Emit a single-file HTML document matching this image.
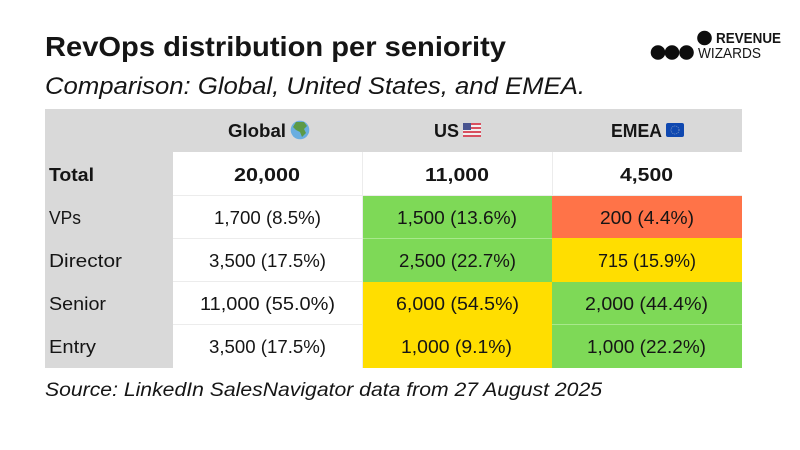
<!DOCTYPE html>
<html lang="en">
<head>
<meta charset="utf-8">
<title>RevOps distribution per seniority</title>
<style>
html,body{margin:0;padding:0;width:800px;height:450px;overflow:hidden;background:#fff}
svg{display:block}
text{font-family:"Liberation Sans",sans-serif;fill:#151515}
.cell{font-size:18px}
.bold{font-weight:700}
</style>
</head>
<body>
<svg width="800" height="450" viewBox="0 0 800 450" xmlns="http://www.w3.org/2000/svg">
<rect width="800" height="450" fill="#fff"/>

<text x="45" y="56" font-size="28" font-weight="700" fill="#0d0d0d" textLength="461" lengthAdjust="spacingAndGlyphs">RevOps distribution per seniority</text>
<text x="45" y="94" font-size="24" font-style="italic" textLength="540" lengthAdjust="spacingAndGlyphs">Comparison: Global, United States, and EMEA.</text>

<g>
<circle cx="704.5" cy="38" r="7.3" fill="#0d0d0d"/>
<circle cx="658" cy="52.5" r="7.3" fill="#0d0d0d"/>
<circle cx="672" cy="52.5" r="7.3" fill="#0d0d0d"/>
<circle cx="686.5" cy="52.5" r="7.3" fill="#0d0d0d"/>
<text x="716" y="43" font-size="14.5" font-weight="700" textLength="65" lengthAdjust="spacingAndGlyphs">REVENUE</text>
<text x="698" y="58" font-size="14.5" textLength="63" lengthAdjust="spacingAndGlyphs">WIZARDS</text>
</g>

<g>
<rect x="45" y="109" width="697" height="43" fill="#d9d9d9"/>
<rect x="45" y="152" width="128" height="216" fill="#d9d9d9"/>
<rect x="363" y="195" width="189" height="43" fill="#7ed957"/>
<rect x="552" y="195" width="190" height="43" fill="#ff7348"/>
<rect x="363" y="238" width="189" height="44" fill="#7ed957"/>
<rect x="552" y="238" width="190" height="44" fill="#ffde00"/>
<rect x="363" y="282" width="189" height="43" fill="#ffde00"/>
<rect x="552" y="282" width="190" height="43" fill="#7ed957"/>
<rect x="363" y="325" width="189" height="43" fill="#ffde00"/>
<rect x="552" y="325" width="190" height="43" fill="#7ed957"/>
</g>

<g stroke="#ececec" stroke-width="1">
<line x1="362.5" y1="152" x2="362.5" y2="368"/>
<line x1="552.5" y1="152" x2="552.5" y2="195"/>
<line x1="173" y1="195.5" x2="742" y2="195.5"/>
<line x1="173" y1="238.5" x2="363" y2="238.5"/>
<line x1="173" y1="281.5" x2="363" y2="281.5"/>
<line x1="173" y1="324.5" x2="363" y2="324.5"/>
</g>
<g stroke="#a8e88c" stroke-width="1">
<line x1="363" y1="238.5" x2="552" y2="238.5"/>
<line x1="552" y1="324.5" x2="742" y2="324.5"/>
</g>

<g class="cell bold">
<text x="228" y="137" textLength="58" lengthAdjust="spacingAndGlyphs">Global</text>
<text x="434" y="137" textLength="25" lengthAdjust="spacingAndGlyphs">US</text>
<text x="611" y="137" textLength="51" lengthAdjust="spacingAndGlyphs">EMEA</text>
</g>

<g>
<circle cx="300" cy="130" r="9.3" fill="#69aee0"/>
<path d="M296 122 L304 122 L307 126 L304 129 L306 133 L302 137 L300 132 L296 130 L293 127 Z" fill="#5c9a46"/>
</g>
<g>
<rect x="463" y="123" width="18" height="14" rx="1.5" fill="#f2f0f0"/>
<rect x="463" y="123" width="18" height="2" fill="#d8505f"/>
<rect x="463" y="127" width="18" height="2" fill="#d8505f"/>
<rect x="463" y="131" width="18" height="2" fill="#d8505f"/>
<rect x="463" y="135" width="18" height="2" fill="#d8505f"/>
<rect x="463" y="123" width="8" height="7" fill="#4a5590"/>
</g>
<g>
<rect x="666" y="123" width="18" height="14" rx="2" fill="#0f48b0"/>
<circle cx="675" cy="130" r="4" fill="none" stroke="#6f8cc0" stroke-width="1" stroke-dasharray="1 1"/>
</g>

<g class="cell">
<text x="49" y="181" class="bold" textLength="45" lengthAdjust="spacingAndGlyphs">Total</text>
<text x="49" y="224" textLength="32" lengthAdjust="spacingAndGlyphs">VPs</text>
<text x="49" y="267" textLength="73" lengthAdjust="spacingAndGlyphs">Director</text>
<text x="49" y="310" textLength="57" lengthAdjust="spacingAndGlyphs">Senior</text>
<text x="49" y="353" textLength="47" lengthAdjust="spacingAndGlyphs">Entry</text>
</g>

<g class="cell bold">
<text x="234" y="181" textLength="66" lengthAdjust="spacingAndGlyphs">20,000</text>
<text x="425" y="181" textLength="64" lengthAdjust="spacingAndGlyphs">11,000</text>
<text x="620" y="181" textLength="53" lengthAdjust="spacingAndGlyphs">4,500</text>
</g>

<g class="cell">
<text x="214" y="224" textLength="107" lengthAdjust="spacingAndGlyphs">1,700 (8.5%)</text>
<text x="209" y="267" textLength="117" lengthAdjust="spacingAndGlyphs">3,500 (17.5%)</text>
<text x="200" y="310" textLength="135" lengthAdjust="spacingAndGlyphs">11,000 (55.0%)</text>
<text x="209" y="353" textLength="117" lengthAdjust="spacingAndGlyphs">3,500 (17.5%)</text>
</g>

<g class="cell">
<text x="397" y="224" textLength="120" lengthAdjust="spacingAndGlyphs">1,500 (13.6%)</text>
<text x="399" y="267" textLength="117" lengthAdjust="spacingAndGlyphs">2,500 (22.7%)</text>
<text x="396" y="310" textLength="123" lengthAdjust="spacingAndGlyphs">6,000 (54.5%)</text>
<text x="401" y="353" textLength="111" lengthAdjust="spacingAndGlyphs">1,000 (9.1%)</text>
</g>

<g class="cell">
<text x="600" y="224" textLength="94" lengthAdjust="spacingAndGlyphs">200 (4.4%)</text>
<text x="598" y="267" textLength="98" lengthAdjust="spacingAndGlyphs">715 (15.9%)</text>
<text x="585" y="310" textLength="123" lengthAdjust="spacingAndGlyphs">2,000 (44.4%)</text>
<text x="587" y="353" textLength="119" lengthAdjust="spacingAndGlyphs">1,000 (22.2%)</text>
</g>

<text x="45" y="396" font-size="19" font-style="italic" textLength="557" lengthAdjust="spacingAndGlyphs">Source: LinkedIn SalesNavigator data from 27 August 2025</text>
</svg>
</body>
</html>
